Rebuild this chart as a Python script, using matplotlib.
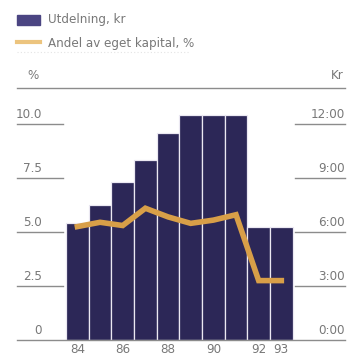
import matplotlib.pyplot as plt
from matplotlib.patches import Rectangle
from matplotlib.lines import Line2D

# Data
years = [84, 85, 86, 87, 88, 89, 90, 91, 92, 93]
utdelning_kr = [6.5, 7.5, 8.75, 10.0, 11.5, 12.5, 12.5, 12.5, 6.25, 6.25]
andel_pct = [5.25, 5.45, 5.3, 6.1, 5.7, 5.4, 5.55, 5.8, 2.75, 2.75]
xtick_years = [84, 86, 88, 90, 92, 93]
pct_ticks = [0, 2.5, 5.0, 7.5, 10.0]
pct_labels = ['0', '2.5', '5.0', '7.5', '10.0']
kr_ticks = [0, 3, 6, 9, 12]
kr_labels = ['0:00', '3:00', '6:00', '9:00', '12:00']

font = dict(family='DejaVu Sans', stretch='condensed')
bar_color = '#2c2757'
line_color = '#d89f48'
grid_color = '#8c8c8c'
text_color = '#787878'

W, H = 347, 358
fig = plt.figure(figsize=(W / 100, H / 100), dpi=100)
fig.patch.set_facecolor('white')

# axes spans full width; y from baseline (px 340) to top rule (px 88)
ax = fig.add_axes([0, (H - 340) / H, 1, (340 - 88) / H])
step = 22.66
x0 = 84 - 77.4 / step
ax.set_xlim(x0, x0 + W / step)
pct_top = (340 - 88) / 21.6
ax.set_ylim(0, pct_top)
for s in ax.spines.values():
    s.set_visible(False)
ax.set_yticks([])

kr = ax.twinx()
kr.set_ylim(0, pct_top * 1.2)
kr.set_yticks([])
for s in kr.spines.values():
    s.set_visible(False)

# bars (kr scale) drawn behind the percent line
kr.bar(years, utdelning_kr, width=1.0, color=bar_color,
       edgecolor='#ebe8f2', linewidth=0.9, zorder=2)
ax.set_zorder(kr.get_zorder() + 1)
ax.patch.set_visible(False)
ax.plot(years, andel_pct, color=line_color, lw=4,
        solid_joinstyle='miter', zorder=3)

# grid segments on both sides
yt = ax.get_yaxis_transform()
for v, lab, kv, klab in zip(pct_ticks, pct_labels, kr_ticks, kr_labels):
    if v == 0:
        ax.plot([0.049, 0.994], [0, 0], transform=yt, color=grid_color,
                lw=1, clip_on=False, zorder=1)
    else:
        ax.plot([0.049, 0.182], [v, v], transform=yt, color=grid_color,
                lw=1, clip_on=False, zorder=1)
        ax.plot([0.850, 0.994], [v, v], transform=yt, color=grid_color,
                lw=1, clip_on=False, zorder=1)
    ax.text(0.121, v + 0.12, lab, transform=yt, ha='right', va='bottom',
            fontsize=9.5, color=text_color, **font)
    ax.text(0.994, v + 0.12, klab, transform=yt, ha='right', va='bottom',
            fontsize=9.5, color=text_color, **font)

# top rule with unit labels
ax.plot([0.049, 0.994], [pct_top, pct_top], transform=yt, color=grid_color,
        lw=1, clip_on=False)
ax.text(0.095, pct_top + 0.3, '%', transform=yt, ha='center', va='bottom',
        fontsize=9.5, color=text_color, **font)
ax.text(0.99, pct_top + 0.3, 'Kr', transform=yt, ha='right', va='bottom',
        fontsize=9.5, color=text_color, **font)

ax.set_xticks(xtick_years)
ax.set_xticklabels([str(y) for y in xtick_years], fontsize=9.5,
                   color=text_color, **font)
ax.tick_params(axis='x', length=0, pad=2.5)

# legend
fig.patches.append(Rectangle((17 / W, 1 - 25 / H), 23 / W, 10 / H,
                             transform=fig.transFigure, color='#4b4582'))
fig.lines.append(Line2D([17 / W, 40 / W], [1 - 42 / H, 1 - 42 / H],
                        transform=fig.transFigure, color='#ecc47e', lw=3))
fig.text(48 / W, 1 - 20 / H, 'Utdelning, kr', ha='left', va='center',
         fontsize=9.5, color=text_color, **font)
fig.text(48 / W, 1 - 43 / H, 'Andel av eget kapital, %', ha='left',
         va='center', fontsize=9.5, color=text_color, **font)
fig.lines.append(Line2D([17 / W, 190 / W], [1 - 52 / H, 1 - 52 / H],
                        transform=fig.transFigure, color='#e4e4e4', lw=0.8,
                        ls=(0, (1, 2))))

fig.savefig('out.png', dpi=100)
